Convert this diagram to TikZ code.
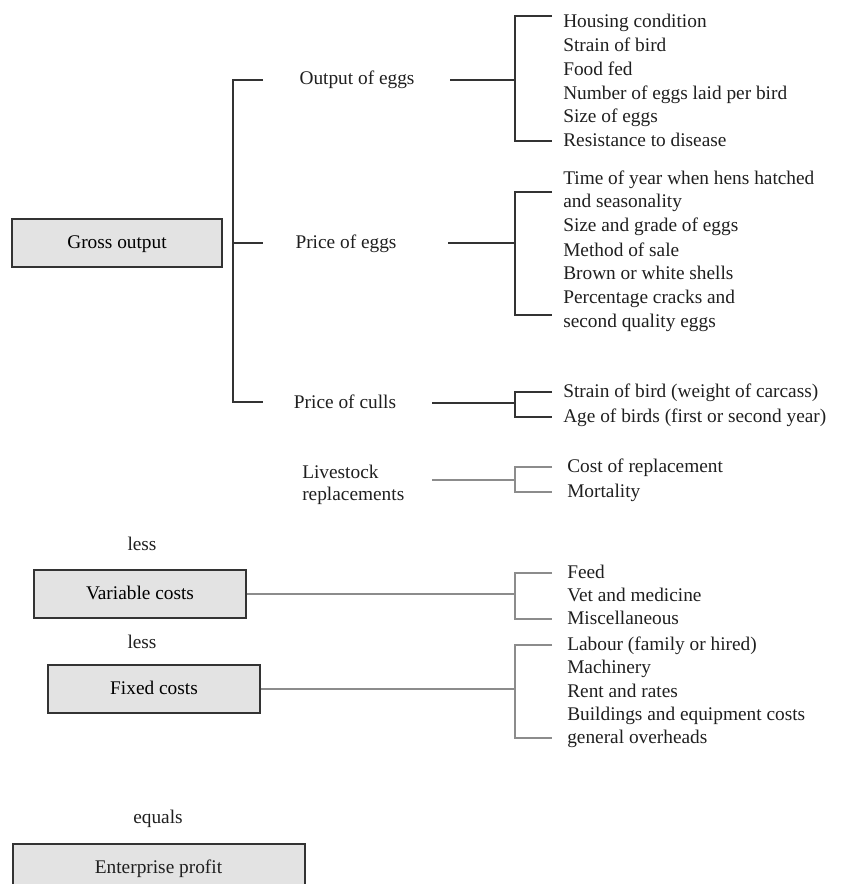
\documentclass[tikz,border=0pt]{standalone}
\usepackage{fontspec}
\setmainfont{Liberation Serif}
\begin{document}
\begin{tikzpicture}[x=0.75pt,y=-0.75pt,
  fnt/.style={font=\fontsize{14.5}{17}\selectfont},
  box/.style={fnt,draw=black!80,line width=1.5pt,fill=gray!22,minimum height=36pt,inner sep=0pt,text height=10.5pt,text depth=3pt},
  lbl/.style={fnt,text=black!88,inner sep=0pt,text height=10.5pt,text depth=3pt},
  item/.style={lbl,anchor=west},
  dark/.style={draw=black!80,line width=1.4pt},
  light/.style={draw=black!45,line width=0.9pt}]
\useasboundingbox (0,0) rectangle (850,884);
% boxes
\node[box,minimum width=157.5pt] (go) at (117,243) {Gross output};
\node[box,minimum width=159pt] (vc) at (140,594) {Variable costs};
\node[box,minimum width=159pt] (fc) at (154,689) {Fixed costs};
\node[box,minimum width=219pt,anchor=north] (ep) at (158.5,843) {};
\node[lbl] (ept) at (158.5,868) {Enterprise profit};
\node[lbl] (less1) at (142,545) {less};
\node[lbl] (less2) at (142,643) {less};
\node[lbl] (eq) at (158,818) {equals};
% main bracket
\coordinate (mt) at (233,80);
\coordinate (mm) at (233,243);
\coordinate (mb) at (233,402);
\draw[dark] (263,80) -- (mt) -- (mb) -- (263,402);
\draw[dark] (mm) -- (263,243);
% second level labels
\node[lbl] (oe) at (357,80) {Output of eggs};
\node[lbl] (pe) at (346,243) {Price of eggs};
\node[lbl] (pc) at (345,403) {Price of culls};
\node[fnt,text=black!88,inner sep=0pt,align=left,anchor=west] (lr) at (302,485) {Livestock\\replacements};
% bracket 1
\coordinate (b1) at (515,80);
\draw[dark] (450,80) -- (b1);
\draw[dark] (552,16) -- (515,16) -- (515,141) -- (552,141);
\node[item] (h1) at (563,23) {Housing condition};
\node[item] (h2) at (563,47) {Strain of bird};
\node[item] (h3) at (563,71) {Food fed};
\node[item] (h4) at (563,95) {Number of eggs laid per bird};
\node[item] (h5) at (563,118) {Size of eggs};
\node[item] (h6) at (563,142) {Resistance to disease};
% bracket 2
\coordinate (b2) at (515,243);
\draw[dark] (448,243) -- (b2);
\draw[dark] (552,192) -- (515,192) -- (515,315) -- (552,315);
\node[item] (p1) at (563,180) {Time of year when hens hatched};
\node[item] (p2) at (563,203) {and seasonality};
\node[item] (p3) at (563,227) {Size and grade of eggs};
\node[item] (p4) at (563,251) {Method of sale};
\node[item] (p5) at (563,274) {Brown or white shells};
\node[item] (p6) at (563,298) {Percentage cracks and};
\node[item] (p7) at (563,322) {second quality eggs};
% bracket 3
\coordinate (b3) at (515,403);
\draw[dark] (432,403) -- (b3);
\draw[dark] (552,392) -- (515,392) -- (515,417) -- (552,417);
\node[item] (c1) at (563,392) {Strain of bird (weight of carcass)};
\node[item] (c2) at (563,417) {Age of birds (first or second year)};
% bracket 4
\coordinate (b4) at (515,480);
\draw[light] (432,480) -- (b4);
\draw[light] (552,467) -- (515,467) -- (515,492) -- (552,492);
\node[item] (l1) at (567,467) {Cost of replacement};
\node[item] (l2) at (567,492) {Mortality};
% bracket 5
\coordinate (b5) at (515,594);
\draw[light] (vc.east) -- (b5);
\draw[light] (552,573) -- (515,573) -- (515,619) -- (552,619);
\node[item] (v1) at (567,573) {Feed};
\node[item] (v2) at (567,596) {Vet and medicine};
\node[item] (v3) at (567,619) {Miscellaneous};
% bracket 6
\coordinate (b6) at (515,689);
\draw[light] (fc.east) -- (b6);
\draw[light] (552,645) -- (515,645) -- (515,738) -- (552,738);
\node[item] (f1) at (567,645) {Labour (family or hired)};
\node[item] (f2) at (567,668) {Machinery};
\node[item] (f3) at (567,692) {Rent and rates};
\node[item] (f4) at (567,715) {Buildings and equipment costs};
\node[item] (f5) at (567,738) {general overheads};
\end{tikzpicture}
\end{document}
